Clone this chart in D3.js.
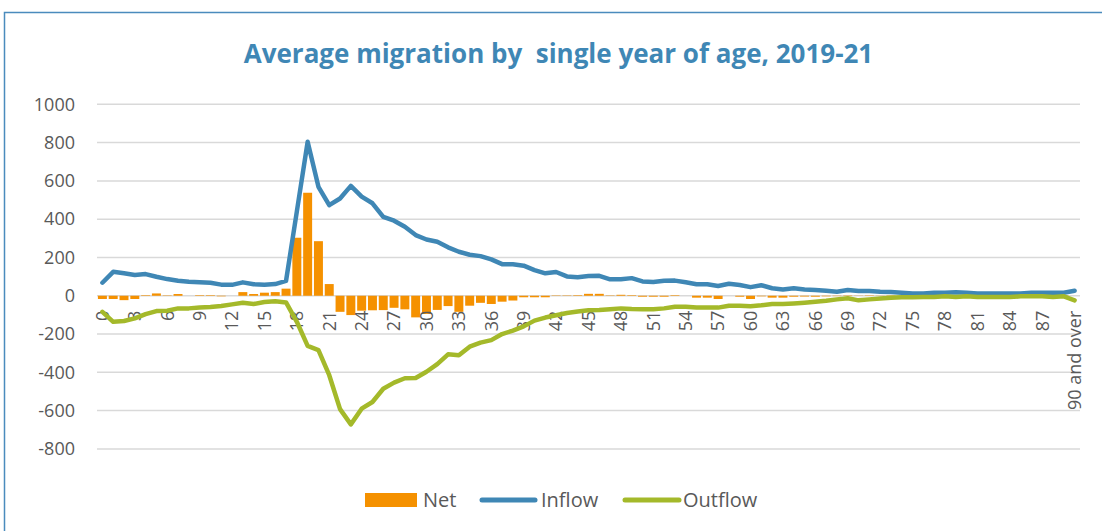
<!DOCTYPE html>
<html>
<head>
<meta charset="utf-8">
<script src="https://cdn.jsdelivr.net/npm/d3@7"></script>
<style>
  html, body { margin: 0; padding: 0; background: #fff; }
  #chart { width: 1102px; height: 531px; }
</style>
</head>
<body>
<div id="chart"></div>
<script>
// categories: single year of age
const ages = d3.range(90).map(String).concat(['90 and over']);

// average yearly flows, 2019-21
const inflow = [
  68, 125, 117, 108, 113, 99, 87, 78, 73, 70,
  68, 58, 57, 70, 60, 58, 61, 78, 440, 804,
  569, 473, 508, 574, 518, 483, 412, 392, 360, 317,
  294, 282, 253, 230, 214, 207, 190, 165, 164, 157,
  134, 117, 124, 101, 97, 103, 104, 86, 86, 92,
  75, 72, 78, 79, 70, 60, 60, 51, 63, 56,
  45, 55, 39, 33, 39, 33, 30, 26, 21, 30,
  25, 25, 21, 19, 16, 12, 12, 16, 16, 18,
  16, 12, 12, 12, 12, 12, 16, 16, 16, 16,
  26
];

const outflow = [
  -84, -136, -132, -118, -96, -80, -78, -66, -66, -61,
  -59, -54, -45, -37, -43, -33, -29, -35, -136, -262,
  -284, -415, -592, -672, -590, -555, -486, -454, -431, -430,
  -397, -357, -306, -311, -266, -245, -232, -200, -182, -160,
  -130, -114, -102, -90, -82, -76, -75, -70, -66, -69,
  -70, -70, -66, -57, -58, -62, -62, -62, -52, -52,
  -55, -50, -43, -43, -40, -36, -31, -26, -19, -13,
  -24, -19, -14, -10, -8, -8, -7, -7, -3, -7,
  -3, -7, -7, -7, -7, -3, -3, -3, -7, -3,
  -24
];

const net = [
  -17, -17, -23, -17, 3, 12, 2, 9, 0, 3,
  3, -3, 0, 19, 9, 16, 19, 37, 303, 538,
  285, 61, -84, -101, -78, -76, -75, -63, -71, -113,
  -95, -74, -54, -84, -52, -37, -43, -31, -25, -8,
  -8, -8, 2, 2, 3, 10, 10, 2, 5, 3,
  -5, -5, -5, 3, 0, -10, -10, -17, 0, -5,
  -17, -3, -10, -10, -5, -4, -5, -3, -2, 2,
  1, 2, 1, 2, 1, 1, 1, 2, 1, 2,
  2, 1, 1, 1, 1, 2, 2, 2, 1, 2,
  0
];

const yTicks = [1000, 800, 600, 400, 200, 0, -200, -400, -600, -800];
const legendItems = ['Net', 'Inflow', 'Outflow'];

const config = {
  svgWidth: 1102,
  svgHeight: 531,
  plotLeft: 97,
  plotRight: 1080,
  plotTop: 104.3,
  plotBottom: 448.9,
  title: 'Average migration by  single year of age, 2019-21',
  titleColor: '#3f87b5',
  frameColor: '#4a8bbd',
  gridColor: '#d9d9d9',
  textColor: '#595959',
  netColor: '#f59100',
  inColor: '#3f87b5',
  outColor: '#a4b92a',
  font: '"Open Sans", "DejaVu Sans", sans-serif'
};

const vis = {};
vis.svg = d3.select('#chart')
  .append('svg')
  .attr('width', config.svgWidth)
  .attr('height', config.svgHeight)
  .style('font-family', config.font);

// outer frame (only top and left edges show in the picture)
vis.svg.append('path')
  .attr('d', `M4.5,${config.svgHeight} L4.5,12.5 L${config.svgWidth},12.5`)
  .attr('fill', 'none')
  .attr('stroke', config.frameColor)
  .attr('stroke-width', 1.5);

// title, sized to the width it takes in the reference
vis.title = vis.svg.append('text')
  .attr('x', 558.5)
  .attr('y', 63)
  .attr('text-anchor', 'middle')
  .style('font-size', '23px')
  .style('font-weight', '700')
  .attr('fill', config.titleColor)
  .attr('xml:space', 'preserve')
  .text(config.title);
let tw = vis.title.node().getComputedTextLength();
vis.title.style('font-size', Math.min(26, 23 * 647 / tw) + 'px');

// scales
vis.scaleX = d3.scaleBand()
  .domain(ages)
  .range([config.plotLeft, config.plotRight])
  .paddingInner(0.17)
  .paddingOuter(0.085);

vis.scaleY = d3.scaleLinear()
  .domain([-800, 1000])
  .range([config.plotBottom, config.plotTop]);

// gridlines
vis.svg.append('g')
  .selectAll('line')
  .data(yTicks)
  .join('line')
  .attr('x1', config.plotLeft)
  .attr('x2', config.plotRight)
  .attr('y1', d => vis.scaleY(d))
  .attr('y2', d => vis.scaleY(d))
  .attr('stroke', config.gridColor)
  .attr('stroke-width', 1.5);

// y axis labels
vis.axisYCall = d3.axisLeft(vis.scaleY)
  .tickValues(yTicks)
  .tickFormat(d => String(d))
  .tickSize(0)
  .tickPadding(22);
vis.axisY = vis.svg.append('g')
  .attr('transform', `translate(${config.plotLeft},0)`)
  .call(vis.axisYCall);
vis.axisY.select('.domain').remove();
vis.axisY.selectAll('text')
  .attr('fill', config.textColor)
  .style('font-family', config.font)
  .style('font-size', '18px');

// net bars
const bw = vis.scaleX.bandwidth();
vis.svg.append('g')
  .selectAll('rect')
  .data(net)
  .join('rect')
  .attr('x', (d, i) => vis.scaleX(ages[i]))
  .attr('width', bw)
  .attr('y', d => vis.scaleY(Math.max(0, d)))
  .attr('height', d => Math.abs(vis.scaleY(d) - vis.scaleY(0)))
  .attr('fill', config.netColor);

// x axis labels, every third age, rotated
const cx = i => vis.scaleX(ages[i]) + bw / 2;
vis.svg.append('g')
  .selectAll('text')
  .data(ages.filter((d, i) => i % 3 === 0))
  .join('text')
  .attr('transform', d => `translate(${cx(ages.indexOf(d))},${vis.scaleY(0) + 15}) rotate(-90)`)
  .attr('text-anchor', 'end')
  .attr('dy', '0.35em')
  .attr('fill', config.textColor)
  .style('font-size', '18px')
  .text(d => d);

// lines
const line = d3.line()
  .x((d, i) => cx(i))
  .y(d => vis.scaleY(d));

vis.svg.append('path')
  .attr('d', line(inflow))
  .attr('fill', 'none')
  .attr('stroke', config.inColor)
  .attr('stroke-width', 4.5)
  .attr('stroke-linejoin', 'round')
  .attr('stroke-linecap', 'round');

vis.svg.append('path')
  .attr('d', line(outflow))
  .attr('fill', 'none')
  .attr('stroke', config.outColor)
  .attr('stroke-width', 4.5)
  .attr('stroke-linejoin', 'round')
  .attr('stroke-linecap', 'round');

// legend
const legend = vis.svg.append('g').style('font-size', '20px');
legend.append('rect')
  .attr('x', 365).attr('y', 493)
  .attr('width', 52).attr('height', 14)
  .attr('fill', config.netColor);
legend.append('line')
  .attr('x1', 482).attr('x2', 535).attr('y1', 500).attr('y2', 500)
  .attr('stroke', config.inColor).attr('stroke-width', 5).attr('stroke-linecap', 'round');
legend.append('line')
  .attr('x1', 625).attr('x2', 679).attr('y1', 500).attr('y2', 500)
  .attr('stroke', config.outColor).attr('stroke-width', 5).attr('stroke-linecap', 'round');
legend.selectAll('text')
  .data(legendItems)
  .join('text')
  .attr('x', (d, i) => [423, 541, 683][i])
  .attr('y', 507)
  .attr('fill', config.textColor)
  .text(d => d);
</script>
</body>
</html>
